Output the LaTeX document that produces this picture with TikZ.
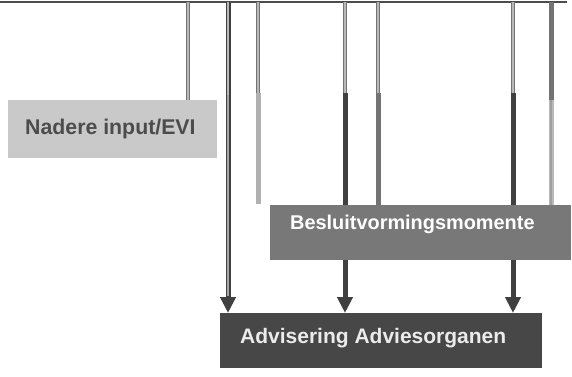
\documentclass[tikz,border=0pt]{standalone}
\usepackage{fontspec}
\setmainfont{Liberation Sans}
\usetikzlibrary{arrows.meta}
\definecolor{nadfill}{gray}{0.79}
\definecolor{nadtext}{gray}{0.3}
\definecolor{besfill}{gray}{0.47}
\definecolor{advfill}{gray}{0.28}
\definecolor{linedark}{gray}{0.25}
\definecolor{linemid}{gray}{0.45}
\definecolor{lineup}{gray}{0.45}
\definecolor{linecore}{gray}{0.72}
\tikzset{
  box/.style={fill=#1, draw=none, inner sep=0pt, anchor=north west},
  boxtext/.style={font=\bfseries\fontsize{#1}{24}\selectfont, anchor=base west, inner sep=0pt},
  topline/.style={draw=gray!60!black, line width=2pt},
  upline/.style={draw=lineup, line width=4.5pt},
  upcore/.style={draw=linecore, line width=1.5pt},
  downline/.style={draw=#1, line width=5pt},
  tip/.style={-{Triangle[width=15pt,length=16pt]}}
}
\begin{document}
\begin{tikzpicture}[x=1pt,y=-1pt]
\useasboundingbox[fill=white] (0,0) rectangle (572,376);
% boxes
\node[box=nadfill, minimum width=209pt, minimum height=58pt] (nad) at (8,100) {};
\node[box=besfill, minimum width=301pt, minimum height=55pt] (bes) at (270,205) {};
\node[box=advfill, minimum width=322pt, minimum height=55pt] (adv) at (220,313) {};
\node[boxtext=21.3, text=nadtext] (nadT) at (25,134) {Nadere input/EVI};
\node[boxtext=19.9, text=white] (besT) at (290,229) {Besluitvormingsmomente};
\node[boxtext=21, text=white!92!black] (advT) at (240,343) {Advisering Adviesorganen};
% top line
\coordinate (tl) at (0,2);
\coordinate (tr) at (567,2);
\draw[topline] (tl) -- (tr);
% column top points
\coordinate (v1) at (188,2);
\coordinate (v2) at (228,2);
\coordinate (v3) at (258,2);
\coordinate (v4) at (345,2);
\coordinate (v5) at (378,2);
\coordinate (v6) at (513,2);
\coordinate (v7) at (551,2);
% split points (colour changes)
\coordinate (s2) at (228,95);
\coordinate (s3) at (258,93);
\coordinate (s4) at (345,93);
\coordinate (s5) at (378,93);
\coordinate (s6) at (513,93);
\coordinate (s7) at (551,100);
\coordinate (e3) at (258,204);
% line to Nadere input
\draw[upline] (v1) -- (v1 |- nad.north);
\draw[upcore] (v1) -- (v1 |- nad.north);
% long line to Advisering (double look)
\draw[downline=linedark, tip] (v2) -- (v2 |- adv.north);
\draw[draw=gray!70, line width=1.6pt] (v2) -- (228,296);
\draw[upcore] (v2) -- (s2);
% short line ending left of Besluit
\draw[upline] (v3) -- (s3);
\draw[upcore] (v3) -- (s3);
\draw[downline=gray!62] (s3) -- (e3);
% lines into Besluitvormingsmomente
\draw[upline] (v4) -- (s4);
\draw[upcore] (v4) -- (s4);
\draw[downline=linedark] (s4) -- (s4 |- bes.north);
\draw[upline] (v5) -- (s5);
\draw[upcore] (v5) -- (s5);
\draw[downline=linemid] (s5) -- (s5 |- bes.north);
\draw[upline] (v6) -- (s6);
\draw[upcore] (v6) -- (s6);
\draw[downline=linedark] (s6) -- (s6 |- bes.north);
\draw[downline=linemid] (v7) -- (s7);
\draw[downline=gray!55] (s7) -- (s7 |- bes.north);
\draw[draw=gray!75, line width=1.2pt] (s7) -- (s7 |- bes.north);
% arrows from Besluitvormingsmomente to Advisering
\draw[downline=linedark, tip] (bes.south -| v4) -- (adv.north -| v4);
\draw[downline=linedark, tip] (bes.south -| v6) -- (adv.north -| v6);
\end{tikzpicture}
\end{document}
